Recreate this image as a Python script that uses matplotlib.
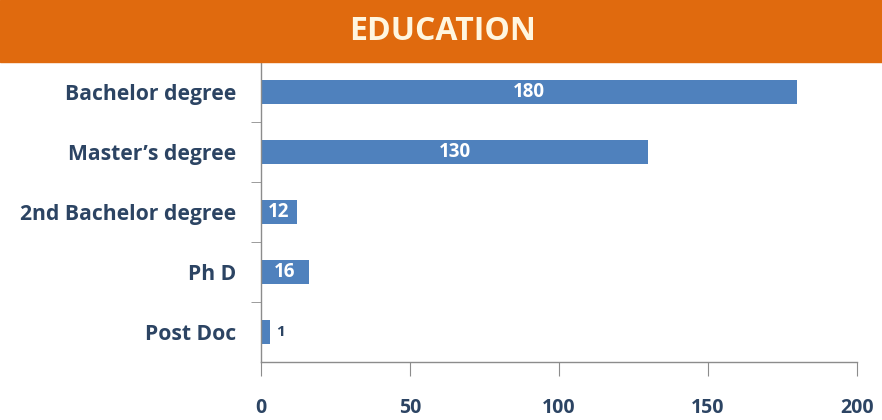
import matplotlib.pyplot as plt
from matplotlib.patches import Rectangle

# data
categories = ["Bachelor degree", "Master\u2019s degree", "2nd Bachelor degree", "Ph D", "Post Doc"]
values = [180, 130, 12, 16, 3]
value_labels = ["180", "130", "12", "16", "1"]
x_ticks = [0, 50, 100, 150, 200]

bar_color = "#4F81BD"
text_color = "#2C4463"
orange = "#E06A0E"

plt.rcParams["font.family"] = ["Open Sans", "DejaVu Sans"]

fig = plt.figure(figsize=(8.82, 4.2), dpi=100)
fig.patches.append(Rectangle((0, 0.852), 1, 0.148, transform=fig.transFigure,
                             color=orange, zorder=0))
fig.text(0.502, 0.926, "EDUCATION", ha="center", va="center", color="#FFF6E0",
         fontsize=23, fontweight="bold")

ax = fig.add_axes([0.2959, 0.138, 0.6758, 0.714])
ypos = list(range(len(categories)))
bars = ax.barh(ypos, values, height=0.4, color=bar_color)

ax.set_xlim(0, 200)
ax.set_ylim(len(categories) - 0.5, -0.5)
ax.set_xticks(x_ticks)
ax.set_yticks(ypos)
ax.set_yticklabels(categories)
ax.set_yticks([i + 0.5 for i in range(len(categories) - 1)], minor=True)

for s in ["top", "right"]:
    ax.spines[s].set_visible(False)
for s in ["left", "bottom"]:
    ax.spines[s].set_color("#8C8C8C")
    ax.spines[s].set_linewidth(1.0)

ax.tick_params(axis="y", which="major", length=0, pad=18, labelsize=15.2,
               labelcolor=text_color)
ax.tick_params(axis="y", which="minor", length=7, color="#8C8C8C")
ax.tick_params(axis="x", length=10, color="#8C8C8C", pad=16, labelsize=14,
               labelcolor=text_color)
for lab in ax.get_yticklabels() + ax.get_xticklabels():
    lab.set_fontweight("bold")

for b, v, lab in zip(bars, values, value_labels):
    cy = b.get_y() + b.get_height() / 2
    if v >= 10:
        ax.text(v / 2, cy, lab, ha="center", va="center", color="white",
                fontsize=13.5, fontweight="bold")
    else:
        ax.text(v + 2, cy, lab, ha="left", va="center", color=text_color,
                fontsize=11, fontweight="bold")

fig.savefig("out.png", dpi=100)
